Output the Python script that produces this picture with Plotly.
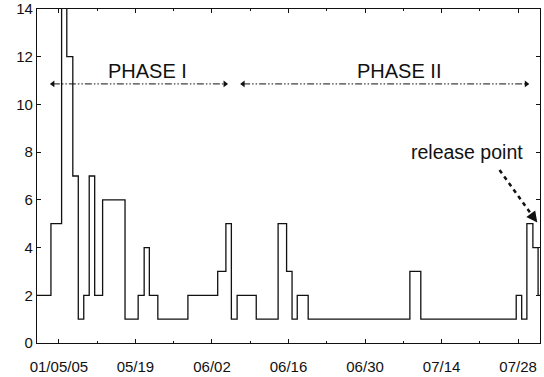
import plotly.graph_objects as go

# ---- data (days counted from May 1, 2005) ----
step_start_day = [0, 2.55, 4.5, 5.45, 6.55, 7.55, 8.55, 9.55, 10.55, 12.0, 16.1,
                  18.5, 19.6, 20.55, 22.1, 27.6, 33.05, 34.55, 35.55, 36.6, 40.1,
                  44.1, 45.65, 46.65, 47.6, 49.6, 68.2, 70.2, 87.65, 88.65, 89.6,
                  90.7, 91.65, 92.5]
counts = [2, 5, 16, 12, 7, 1, 2, 7, 2, 6, 1,
          2, 4, 2, 1, 2, 3, 5, 1, 2, 1,
          5, 3, 1, 2, 1, 3, 1, 2, 1, 5,
          4, 2, 2]

tick_days = [4, 18, 32, 46, 60, 74, 88]
tick_labels = ["01/05/05", "05/19", "06/02", "06/16", "06/30", "07/14", "07/28"]
minor_tick_days = [11, 25, 39, 53, 67, 81]
y_ticks = [0, 2, 4, 6, 8, 10, 12, 14]

phase_labels = ["PHASE I", "PHASE II"]
phase_start = [2.9, 37.7]
phase_end = [34.4, 89.5]
phase_label_x = [20.2, 66.3]
phase_level = 10.86

release_label = "release point"
release_from = (84.6, 7.25)
release_to = (91.5, 5.05)

FONT = "Liberation Sans, Arial, Helvetica, sans-serif"

fig = go.Figure()

fig.add_trace(go.Scatter(
    x=step_start_day, y=counts, mode="lines", line_shape="hv",
    line=dict(color="#111111", width=1.3), showlegend=False, hoverinfo="skip"))

for s, e in zip(phase_start, phase_end):
    fig.add_trace(go.Scatter(
        x=[s, e], y=[phase_level, phase_level], mode="lines+markers",
        line=dict(color="#111111", width=1, dash="7px,2px,1.5px,2px,1.5px,2px"),
        marker=dict(symbol=["triangle-left", "triangle-right"], size=6,
                    color="#111111", line=dict(width=0)),
        showlegend=False, hoverinfo="skip"))

for lab, lx in zip(phase_labels, phase_label_x):
    fig.add_annotation(x=lx, y=11.39, text=lab, showarrow=False,
                       xanchor="center", yanchor="middle",
                       font=dict(family=FONT, size=20, color="#111111"))

# release point dashed arrow
fig.add_trace(go.Scatter(
    x=[release_from[0], release_to[0] - 0.7], y=[release_from[1], release_to[1] + 0.22],
    mode="lines", line=dict(color="#111111", width=2.5, dash="4px,4px"),
    showlegend=False, hoverinfo="skip"))
fig.add_annotation(x=release_to[0], y=release_to[1], ax=release_to[0] - 0.9,
                   ay=release_to[1] + 0.28, axref="x", ayref="y", xref="x", yref="y",
                   text="", showarrow=True, arrowhead=2, arrowsize=1, arrowwidth=2.2,
                   arrowcolor="#111111")
fig.add_annotation(x=78.7, y=8.0, text=release_label, showarrow=False,
                   xanchor="center", yanchor="middle",
                   font=dict(family=FONT, size=19.5, color="#111111"))

axis_common = dict(showgrid=False, zeroline=False, showline=True, linecolor="#111111",
                   linewidth=1.3, mirror="ticks", ticks="inside", ticklen=4,
                   tickwidth=1, tickcolor="#111111",
                   tickfont=dict(family=FONT, size=15, color="#111111"))

fig.update_xaxes(range=[0, 92], tickmode="array", tickvals=tick_days, ticktext=tick_labels,
                 minor=dict(tickmode="array", tickvals=minor_tick_days, ticks="inside",
                            ticklen=2, tickwidth=1, tickcolor="#111111"),
                 ticklabelstandoff=10, **axis_common)
fig.update_yaxes(range=[0, 14], tickmode="array", tickvals=y_ticks, **axis_common)

fig.update_layout(width=544, height=377, margin=dict(l=37, r=4, t=9, b=34, autoexpand=False),
                  plot_bgcolor="white", paper_bgcolor="white")

fig.write_html("out.html", config={"displayModeBar": False},
               post_script="document.body.style.margin='0';")
